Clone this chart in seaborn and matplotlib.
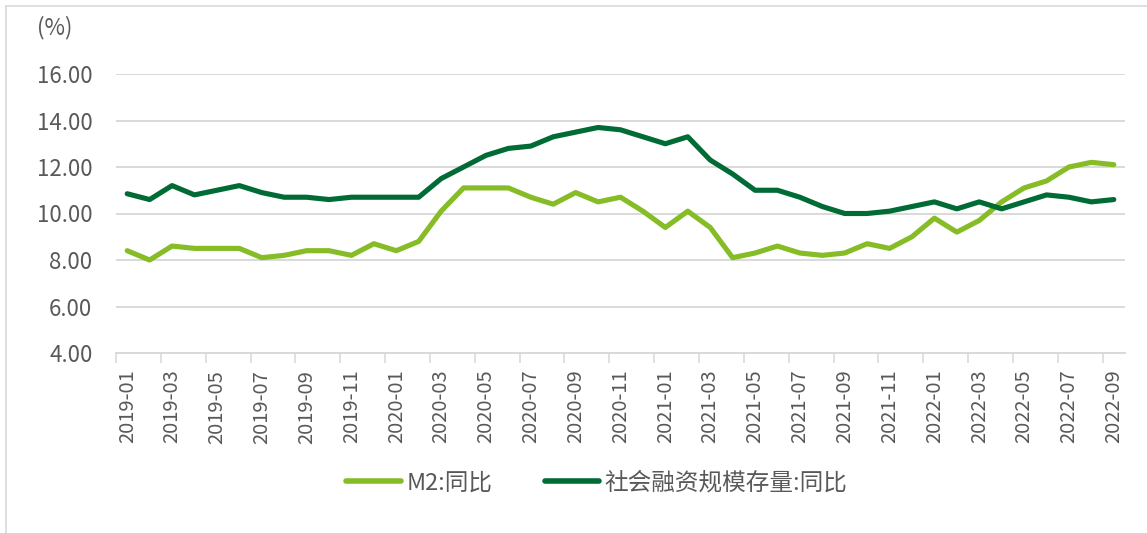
import matplotlib
matplotlib.use("Agg")
import matplotlib.pyplot as plt
import seaborn as sns
import pandas as pd
import numpy as np
from matplotlib.lines import Line2D

months = pd.period_range("2019-01", "2022-09", freq="M").strftime("%Y-%m").tolist()

m2 = [8.4, 8.0, 8.6, 8.5, 8.5, 8.5, 8.1, 8.2, 8.4, 8.4, 8.2, 8.7,
      8.4, 8.8, 10.1, 11.1, 11.1, 11.1, 10.7, 10.4, 10.9, 10.5, 10.7, 10.1,
      9.4, 10.1, 9.4, 8.1, 8.3, 8.6, 8.3, 8.2, 8.3, 8.7, 8.5, 9.0,
      9.8, 9.2, 9.7, 10.5, 11.1, 11.4, 12.0, 12.2, 12.1]

tsf = [10.85, 10.6, 11.2, 10.8, 11.0, 11.2, 10.9, 10.7, 10.7, 10.6, 10.7, 10.7,
       10.7, 10.7, 11.5, 12.0, 12.5, 12.8, 12.9, 13.3, 13.5, 13.7, 13.6, 13.3,
       13.0, 13.3, 12.3, 11.7, 11.0, 11.0, 10.7, 10.3, 10.0, 10.0, 10.1, 10.3,
       10.5, 10.2, 10.5, 10.2, 10.5, 10.8, 10.7, 10.5, 10.6]

series_names = ["M2:同比", "社会融资规模存量:同比"]
colors = ["#86BC25", "#006B35"]

sns.set_theme(style="white")
plt.rcParams['font.family'] = ['Noto Sans CJK SC', 'DejaVu Sans']

df = pd.DataFrame({"idx": np.arange(len(months)), "month": months,
                   series_names[0]: m2, series_names[1]: tsf})
long = df.melt(id_vars=["idx", "month"], value_vars=series_names,
               var_name="series", value_name="value")

fig = plt.figure(figsize=(11.47, 5.33), dpi=100)
ax = fig.add_axes([116/1147, (533-353)/533, (1125-116)/1147, (353-74)/533])

sns.lineplot(data=long, x="idx", y="value", hue="series", hue_order=series_names,
             palette=colors, linewidth=3.7, ax=ax, legend=False,
             solid_capstyle="round", solid_joinstyle="round")

ax.set_xlim(-0.5, len(months) - 0.5)
ax.set_ylim(4, 16)
ax.set_yticks(np.arange(4, 16.1, 2))
ax.set_yticklabels([f"{v:.2f}" for v in np.arange(4, 16.1, 2)])
ax.yaxis.grid(True, color="#D9D9D9", linewidth=1.4)
ax.set_axisbelow(True)

ax.set_xticks(np.arange(0, len(months), 2))
ax.set_xticklabels(months[::2], rotation=90)
ax.set_xticks(np.arange(-0.5, len(months) - 1, 2), minor=True)
ax.tick_params(axis="x", which="major", length=0, pad=12, labelsize=14.5, labelcolor="#595959")
ax.tick_params(axis="x", which="minor", length=7, width=1.2, color="#D9D9D9", bottom=True)
ax.tick_params(axis="y", length=0, pad=17, labelsize=16, labelcolor="#595959")

for s in ["top", "right", "left"]:
    ax.spines[s].set_visible(False)
ax.spines["bottom"].set_color("#D9D9D9")
ax.spines["bottom"].set_linewidth(1.4)
ax.set_xlabel("")
ax.set_ylabel("")

fig.text(37/1147, 1 - 28/533, "(%)", fontsize=16, color="#595959", va="center", ha="left")

handles = [Line2D([0], [0], color=c, linewidth=4, solid_capstyle="round") for c in colors]
fig.legend(handles, series_names, loc="center", bbox_to_anchor=(597/1147, 1 - 483/533),
           ncol=2, frameon=False, fontsize=17, handlelength=2.3, columnspacing=2.2,
           handletextpad=0.25, labelcolor="#595959")

# chart area border (left and top)
fig.add_artist(Line2D([6/1147, 6/1147], [0, 1 - 6/533], color="#D9D9D9", linewidth=1.2,
                      transform=fig.transFigure))
fig.add_artist(Line2D([6/1147, 1], [1 - 6/533, 1 - 6/533], color="#D9D9D9", linewidth=1.2,
                      transform=fig.transFigure))

fig.savefig("out.png", dpi=100)
